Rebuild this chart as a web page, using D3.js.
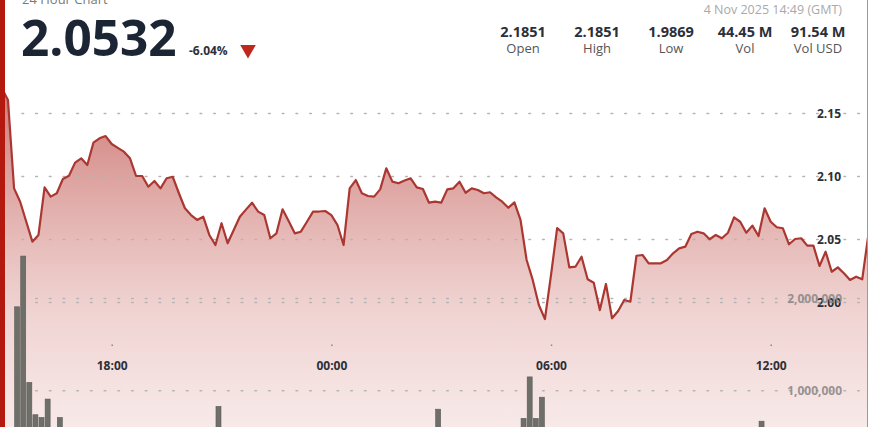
<!DOCTYPE html>
<html>
<head>
<meta charset="utf-8">
<script src="https://cdn.jsdelivr.net/npm/d3@7"></script>
<style>
  html, body { margin: 0; padding: 0; background: #fff; }
  svg { display: block; font-family: "Open Sans", "Noto Sans", sans-serif; }
</style>
</head>
<body>
<svg id="chart" width="870" height="427"></svg>
<script>
// ---------- DATA ----------
const title = "24 Hour Chart";
const lastPrice = "2.0532";
const changePct = "-6.04%";
const timestamp = "4 Nov 2025 14:49 (GMT)";
const statValues = ["2.1851", "2.1851", "1.9869", "44.45 M", "91.54 M"];
const statLabels = ["Open", "High", "Low", "Vol", "Vol USD"];

// price series, one value every 10 minutes from 2025-11-03 14:50 UTC
const priceStart = "2025-11-03T14:50";
const prices = [
  2.1851, 2.1700, 2.1607, 2.0906, 2.0800, 2.0641, 2.0483, 2.0536, 2.0914, 2.0840,
  2.0867, 2.0980, 2.1006, 2.1110, 2.1144, 2.1091, 2.1268, 2.1303, 2.1321, 2.1258,
  2.1227, 2.1197, 2.1144, 2.1004, 2.1004, 2.0919, 2.0964, 2.0906, 2.0986, 2.0998,
  2.0869, 2.0748, 2.0694, 2.0655, 2.0681, 2.0536, 2.0456, 2.0629, 2.0470, 2.0575,
  2.0681, 2.0737, 2.0792, 2.0721, 2.0694, 2.0510, 2.0549, 2.0740, 2.0647, 2.0549,
  2.0562, 2.0641, 2.0721, 2.0722, 2.0726, 2.0694, 2.0615, 2.0456, 2.0906, 2.0972,
  2.0867, 2.0845, 2.0840, 2.0898, 2.1065, 2.0959, 2.0946, 2.0968, 2.0986, 2.0914,
  2.0901, 2.0792, 2.0800, 2.0792, 2.0898, 2.0906, 2.0959, 2.0871, 2.0906, 2.0893,
  2.0867, 2.0875, 2.0835, 2.0800, 2.0752, 2.0795, 2.0655, 2.0337, 2.0179, 1.9980,
  1.9869, 2.0220, 2.0591, 2.0549, 2.0279, 2.0284, 2.0363, 2.0184, 2.0157, 1.9940,
  2.0147, 1.9875, 1.9933, 2.0020, 2.0006, 2.0371, 2.0377, 2.0311, 2.0311, 2.0311,
  2.0337, 2.0390, 2.0430, 2.0443, 2.0544, 2.0562, 2.0549, 2.0502, 2.0536, 2.0510,
  2.0554, 2.0676, 2.0641, 2.0554, 2.0610, 2.0528, 2.0748, 2.0641, 2.0597, 2.0589,
  2.0462, 2.0504, 2.0510, 2.0451, 2.0451, 2.0290, 2.0403, 2.0244, 2.0279, 2.0232,
  2.0179, 2.0205, 2.0184, 2.0536
];
const lastTime = "2025-11-04T14:49";
const lastValue = 2.0532;

// volume bars (10-minute bins, centre time) that are visible in the frame
const volTimes = [
  "2025-11-03T15:25", "2025-11-03T15:35", "2025-11-03T15:45", "2025-11-03T15:55",
  "2025-11-03T16:05", "2025-11-03T16:15", "2025-11-03T16:35", "2025-11-03T20:55",
  "2025-11-04T02:55", "2025-11-04T05:15", "2025-11-04T05:25", "2025-11-04T05:35",
  "2025-11-04T05:45", "2025-11-04T11:45"
];
const volValues = [
  1910000, 2460000, 1090000, 740000, 710000, 910000, 710000, 830000,
  800000, 700000, 1150000, 700000, 930000, 670000
];

const priceTicks = [2.00, 2.05, 2.10, 2.15];
const volTicks = [1000000, 2000000];
const timeTicks = ["2025-11-03T18:00", "2025-11-04T00:00", "2025-11-04T06:00", "2025-11-04T12:00"];

// ---------- SETUP ----------
const parse = d3.utcParse("%Y-%m-%dT%H:%M");
const t0 = parse(priceStart);
const priceData = prices.map((v, i) => ({ t: new Date(t0.getTime() + i * 600000), v }));
priceData.push({ t: parse(lastTime), v: lastValue });
const volData = volTimes.map((s, i) => ({ t: parse(s), v: volValues[i] }));

const svg = d3.select("#chart");
const W = 870, H = 427;

const x = d3.scaleUtc()
  .domain([parse("2025-11-03T18:00"), parse("2025-11-04T12:00")])
  .range([111.7, 770.7]);
const y = d3.scaleLinear().domain([2.00, 2.15]).range([302.5, 113.5]);
const yv = d3.scaleLinear().domain([0, 2000000]).range([483, 298.5]);

const defs = svg.append("defs");
const grad = defs.append("linearGradient")
  .attr("id", "areaGrad").attr("gradientUnits", "userSpaceOnUse")
  .attr("x1", 0).attr("x2", 0).attr("y1", 100).attr("y2", 480);
grad.append("stop").attr("offset", 0).attr("stop-color", "#c0554f").attr("stop-opacity", 0.75);
grad.append("stop").attr("offset", 0.55).attr("stop-color", "#e2afac").attr("stop-opacity", 0.55);
grad.append("stop").attr("offset", 1).attr("stop-color", "#f6e6e5").attr("stop-opacity", 0.5);

defs.append("clipPath").attr("id", "plotClip")
  .append("rect").attr("x", 5).attr("y", 0).attr("width", 862).attr("height", H);

const plot = svg.append("g").attr("clip-path", "url(#plotClip)");

// area
plot.append("path").datum(priceData)
  .attr("fill", "url(#areaGrad)")
  .attr("d", d3.area().x(d => x(d.t)).y0(H + 60).y1(d => y(d.v)));

// gridlines (price)
const gridX0 = 22, gridX1 = 866;
plot.append("g").selectAll("line").data(priceTicks).join("line")
  .attr("x1", gridX0).attr("x2", gridX1)
  .attr("y1", d => y(d)).attr("y2", d => y(d))
  .attr("stroke", "#b9b4b4").attr("stroke-width", 1.6)
  .attr("stroke-dasharray", "1.6,12.1").attr("stroke-linecap", "round");
// gridlines (volume)
plot.append("g").selectAll("line").data(volTicks).join("line")
  .attr("x1", gridX0).attr("x2", gridX1)
  .attr("y1", d => yv(d)).attr("y2", d => yv(d))
  .attr("stroke", "#b9b4b4").attr("stroke-width", 1.6)
  .attr("stroke-dasharray", "1.6,12.1").attr("stroke-linecap", "round");

// volume bars
plot.append("g").selectAll("rect").data(volData).join("rect")
  .attr("x", d => x(d.t) - 2.5).attr("width", 5)
  .attr("y", d => yv(d.v)).attr("height", d => yv(0) - yv(d.v))
  .attr("fill", "#6f6f6a").attr("stroke", "#5a5a56").attr("stroke-width", 0.6);

// price line
plot.append("path").datum(priceData)
  .attr("fill", "none").attr("stroke", "#aa3731").attr("stroke-width", 2.2)
  .attr("stroke-linejoin", "round")
  .attr("d", d3.line().x(d => x(d.t)).y(d => y(d.v)));

// x axis
const xAxis = d3.axisBottom(x)
  .tickValues(timeTicks.map(parse))
  .tickFormat(d3.utcFormat("%H:%M"))
  .tickSize(1.5).tickPadding(15);
const gx = svg.append("g").attr("transform", "translate(0,344.5)").call(xAxis);
gx.select(".domain").remove();
gx.selectAll(".tick line").attr("stroke", "#888").attr("stroke-width", 1.5);
gx.selectAll(".tick text")
  .attr("font-family", "'Open Sans', sans-serif").attr("font-size", 12)
  .attr("font-weight", 700).attr("fill", "#2b2f38");

// price axis labels
const yAxis = d3.axisRight(y).tickValues(priceTicks).tickFormat(d3.format(".2f"))
  .tickSize(0).tickPadding(0);
const gy = svg.append("g").attr("transform", "translate(817,0)").call(yAxis);
gy.select(".domain").remove();
gy.selectAll(".tick text")
  .attr("font-family", "'Open Sans', sans-serif").attr("font-size", 12)
  .attr("font-weight", 700).attr("fill", "#2b2f38");

// volume axis labels
const vAxis = d3.axisLeft(yv).tickValues(volTicks).tickFormat(d3.format(","))
  .tickSize(0).tickPadding(0);
const gvol = svg.append("g").attr("transform", "translate(842,0)").call(vAxis);
gvol.select(".domain").remove();
gvol.selectAll(".tick text")
  .attr("font-family", "'Open Sans', sans-serif").attr("font-size", 12)
  .attr("font-weight", 700).attr("fill", "#8a8585").attr("opacity", 0.85);

// frame
svg.append("rect").attr("x", 0).attr("y", 0).attr("width", 5).attr("height", H).attr("fill", "#b3190f");
svg.append("line").attr("x1", 867.5).attr("x2", 867.5).attr("y1", 0).attr("y2", H)
  .attr("stroke", "#9a9a9a").attr("stroke-width", 1);

// header
svg.append("text").attr("x", 22).attr("y", 4)
  .attr("font-size", 13).attr("fill", "#7a7a7a").text(title);
svg.append("text").attr("x", 21).attr("y", 56)
  .attr("font-size", 49.5).attr("font-weight", 700).attr("fill", "#1b2533").text(lastPrice);
svg.append("text").attr("x", 189).attr("y", 55)
  .attr("font-size", 12).attr("font-weight", 700).attr("fill", "#2b2f38").text(changePct);
svg.append("path")
  .attr("d", d3.symbol().type(d3.symbolTriangle).size(105)())
  .attr("transform", "translate(248,49.5) rotate(180)")
  .attr("fill", "#c0281c");

svg.append("text").attr("x", 842).attr("y", 14).attr("text-anchor", "end")
  .attr("font-size", 12.5).attr("fill", "#a9a9a9").text(timestamp);

const statX = [523, 597, 671, 745, 818];
statValues.forEach((v, i) => {
  svg.append("text").attr("x", statX[i]).attr("y", 36.5).attr("text-anchor", "middle")
    .attr("font-size", 14.5).attr("font-weight", 700).attr("fill", "#2b2f38").text(v);
  svg.append("text").attr("x", statX[i]).attr("y", 53).attr("text-anchor", "middle")
    .attr("font-size", 13).attr("fill", "#555").text(statLabels[i]);
});
</script>
</body>
</html>
